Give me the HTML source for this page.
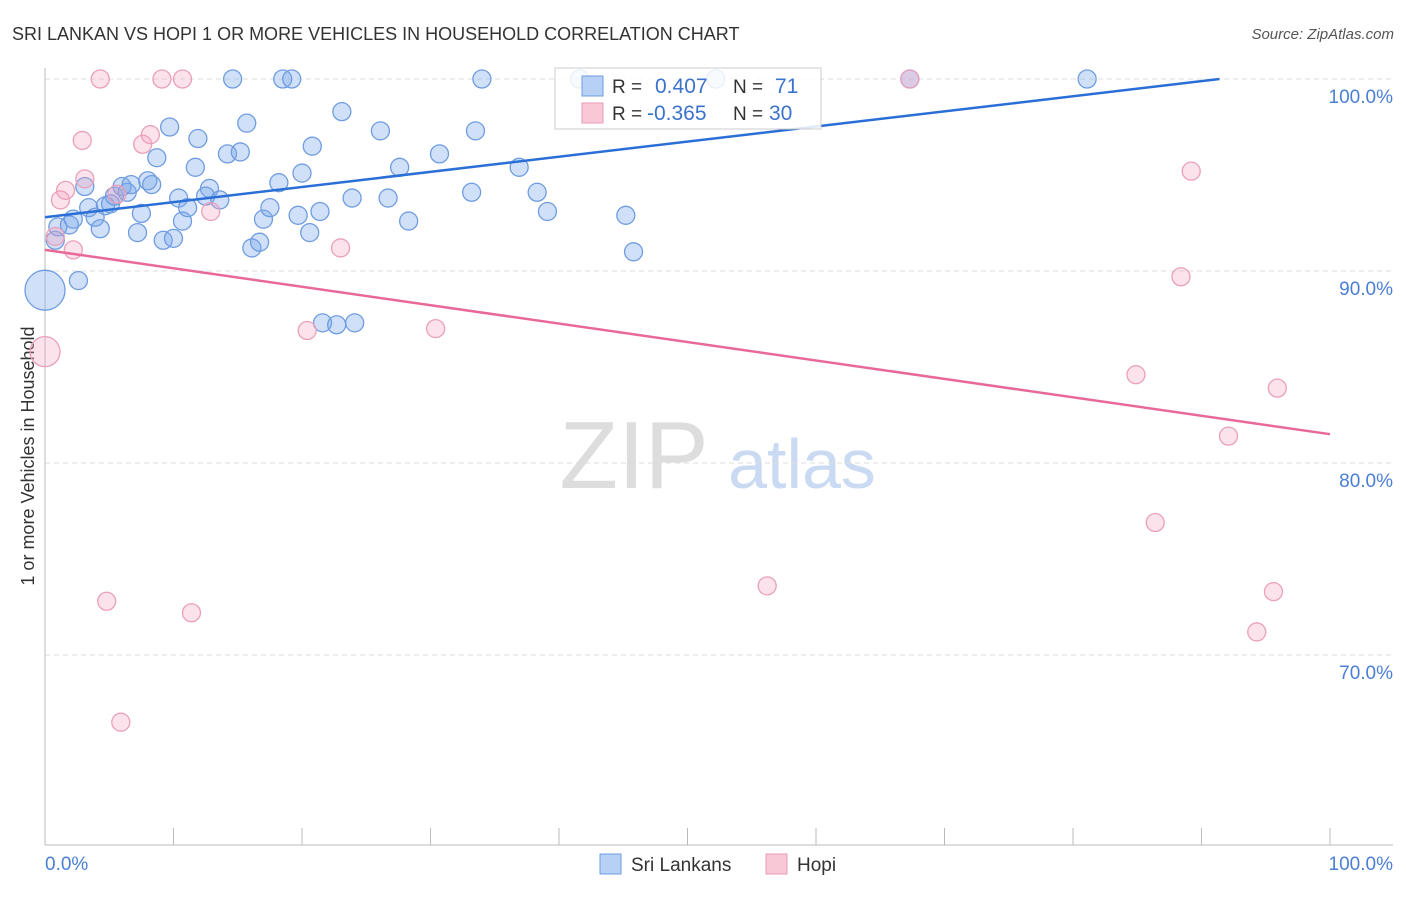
<!DOCTYPE html>
<html><head><meta charset="utf-8"><style>
body{margin:0;background:#fff;font-family:"Liberation Sans",sans-serif}
svg text{font-family:"Liberation Sans",sans-serif}
</style></head><body>
<svg id="c" width="1406" height="892" xmlns="http://www.w3.org/2000/svg">
<text x="12" y="40" font-size="18" fill="#333">SRI LANKAN VS HOPI 1 OR MORE VEHICLES IN HOUSEHOLD CORRELATION CHART</text>
<text x="1394" y="39" font-size="15" fill="#555" font-style="italic" text-anchor="end">Source: ZipAtlas.com</text>
<text x="634" y="488" font-size="96" fill="#ddd" font-family="Liberation Serif" text-anchor="middle">ZIP</text>
<text x="802" y="488" font-size="70" fill="#c9daf2" text-anchor="middle">atlas</text>
<text transform="translate(34,456) rotate(-90)" font-size="18" fill="#333" text-anchor="middle">1 or more Vehicles in Household</text>
<g id="grid"></g><g id="pts"></g><g id="lines"></g>
<g>
<rect x="555" y="68" width="266" height="61" fill="#fff" fill-opacity="0.85" stroke="#ccc"/>
<rect x="582" y="76" width="21" height="20" fill="#b7d0f5" stroke="#6f9de0"/>
<text x="612" y="93" font-size="19" fill="#333">R =</text><text x="655" y="93" font-size="21" fill="#3b72cc">0.407</text>
<text x="733" y="93" font-size="19" fill="#333">N =</text><text x="775" y="93" font-size="21" fill="#3b72cc">71</text>
<rect x="582" y="103" width="21" height="20" fill="#f9c8d7" stroke="#e89ab4"/>
<text x="612" y="120" font-size="19" fill="#333">R =</text><text x="647" y="120" font-size="21" fill="#3b72cc">-0.365</text>
<text x="733" y="120" font-size="19" fill="#333">N =</text><text x="769" y="120" font-size="21" fill="#3b72cc">30</text>
</g>
<g>
<rect x="600" y="854" width="21" height="20" fill="#b7d0f5" stroke="#6f9de0"/>
<text x="631" y="871" font-size="19" fill="#333">Sri Lankans</text>
<rect x="766" y="854" width="21" height="20" fill="#f9c8d7" stroke="#e89ab4"/>
<text x="797" y="871" font-size="19" fill="#333">Hopi</text>
</g>
</svg>
<script>
const yTicks=[100,90,80,70];
const xTickLabels=["0.0%","100.0%"];
const blueX=[0,0.8,1.0,1.9,2.2,2.6,3.1,3.4,3.9,4.3,4.7,5.1,5.4,6.0,6.4,6.7,7.2,7.5,8.0,8.3,8.7,9.2,9.7,10.0,10.4,10.7,11.1,11.7,11.9,12.8,12.5,13.6,14.2,14.6,15.2,15.7,16.1,16.7,17.0,17.5,18.2,18.5,19.2,19.7,20.0,20.6,20.8,21.4,21.6,22.7,23.1,23.9,24.1,26.1,26.7,27.6,28.3,30.7,33.2,33.5,34.0,36.9,38.3,39.1,41.6,45.2,45.8,52.2,67.3,81.1];
const blueY=[89.0,91.6,92.3,92.4,92.7,89.5,94.4,93.3,92.8,92.2,93.4,93.5,93.9,94.4,94.1,94.5,92.0,93.0,94.7,94.5,95.9,91.6,97.5,91.7,93.8,92.6,93.3,95.4,96.9,94.3,93.9,93.7,96.1,100,96.2,97.7,91.2,91.5,92.7,93.3,94.6,100,100,92.9,95.1,92.0,96.5,93.1,87.3,87.2,98.3,93.8,87.3,97.3,93.8,95.4,92.6,96.1,94.1,97.3,100,95.4,94.1,93.1,100,92.9,91.0,100,100,100];
const pinkX=[0,0.8,1.2,1.6,2.2,2.9,3.1,4.3,4.8,5.6,5.9,7.6,8.2,9.1,10.7,11.4,12.9,20.4,23.0,30.4,56.2,67.3,84.9,86.4,88.4,89.2,92.1,94.3,95.6,95.9];
const pinkY=[85.8,91.8,93.7,94.2,91.1,96.8,94.8,100,72.8,94.0,66.5,96.6,97.1,100,100,72.2,93.1,86.9,91.2,87.0,73.6,100,84.6,76.9,89.7,95.2,81.4,71.2,73.3,83.9];
const blueTrend=[[0,92.8],[91.4,100]];
const pinkTrend=[[0,91.1],[100,81.5]];
const NS="http://www.w3.org/2000/svg";
const X=v=>45+v*12.85, Y=v=>79+(100-v)*19.2;
function mk(t,a,p){const e=document.createElementNS(NS,t);for(const k in a)e.setAttribute(k,a[k]);document.getElementById(p).appendChild(e);return e;}
yTicks.forEach(t=>{
 const l=mk('line',{x1:45,x2:1393,y1:Y(t),y2:Y(t),stroke:'#ddd','stroke-dasharray':'5,4'},'grid');
 
 
 const tx=mk('text',{x:1393,y:Y(t)+24,'font-size':19,fill:'#4a7fd6','text-anchor':'end'},'grid');tx.textContent=t.toFixed(1)+'%';
 
 
});
mk('line',{x1:45,x2:45,y1:68,y2:845,stroke:'#bbb'},'grid');
mk('line',{x1:45,x2:1393,y1:845,y2:845,stroke:'#bbb'},'grid');
for(let i=0;i<=10;i++){const t=mk('line',{x1:X(i*10),x2:X(i*10),y1:828,y2:845,stroke:'#bbb'},'grid');
 
 }
[[0,'start',45],[1,'end',1393]].forEach(([i,a,x])=>{const t=mk('text',{x:x,y:870,'font-size':19,fill:'#4a7fd6','text-anchor':a},'grid');t.textContent=xTickLabels[i];
 
 });
blueX.forEach((v,i)=>{const c=mk('circle',{cx:X(v),cy:Y(blueY[i]),r:i==0?20:9,fill:'rgba(120,165,235,0.35)',stroke:'#6f9de0','stroke-width':1.3},'pts');
 
 });
pinkX.forEach((v,i)=>{const c=mk('circle',{cx:X(v),cy:Y(pinkY[i]),r:i==0?15:9,fill:'rgba(245,160,190,0.3)',stroke:'#eaa0bb','stroke-width':1.3},'pts');
 
 });
const b=mk('line',{x1:X(blueTrend[0][0]),y1:Y(blueTrend[0][1]),x2:X(blueTrend[1][0]),y2:Y(blueTrend[1][1]),stroke:'#2a6fd6','stroke-width':2.5},'lines');


const p=mk('line',{x1:X(pinkTrend[0][0]),y1:Y(pinkTrend[0][1]),x2:X(pinkTrend[1][0]),y2:Y(pinkTrend[1][1]),stroke:'#e8689a','stroke-width':2.5},'lines');


</script>
</body></html>
